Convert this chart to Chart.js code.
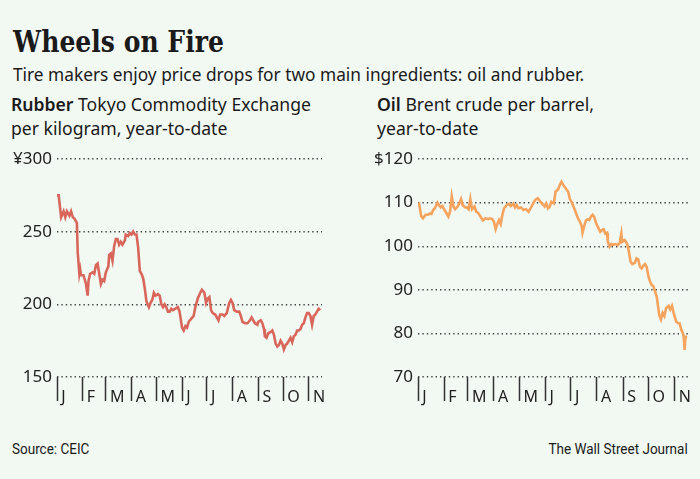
<!DOCTYPE html>
<html>
<head>
<meta charset="utf-8">
<script src="https://cdn.jsdelivr.net/npm/chart.js@4.4.1/dist/chart.umd.min.js"></script>
<style>
  html, body { margin: 0; padding: 0; }
  body { width: 700px; height: 479px; background: #f2f8f2; position: relative; overflow: hidden; color: #1a1a1a; }
  .t { position: absolute; white-space: nowrap; line-height: 1; }
  #title { left: 13px; top: 27px; font-family: "DejaVu Serif"; font-weight: bold; font-size: 29.5px; transform: scaleX(0.85); transform-origin: left top; }
  #sub { left: 13px; top: 66px; font-family: "Noto Sans"; font-size: 17.3px; }
  .hd { font-family: "Noto Sans"; font-size: 17.6px; line-height: 24px; }
  .hd b { font-weight: 600; }
  #hdL { left: 11px; top: 92px; }
  #hdR { left: 377px; top: 92px; }
  .ft { font-family: "Roboto"; font-size: 15px; top: 442px; transform: scaleX(0.9); }
  #src { left: 12px; transform-origin: left top; }
  #wsj { right: 12px; transform-origin: right top; }
  canvas { position: absolute; }
  #rubberChart { left: 0; top: 140px; }
  #oilChart { left: 355px; top: 140px; }
</style>
</head>
<body>
<div class="t" id="title">Wheels on Fire</div>
<div class="t" id="sub">Tire makers enjoy price drops for two main ingredients: oil and rubber.</div>
<div class="t hd" id="hdL"><b>Rubber</b> Tokyo Commodity Exchange<br>per kilogram, year-to-date</div>
<div class="t hd" id="hdR"><b>Oil</b> Brent crude per barrel,<br>year-to-date</div>
<canvas id="rubberChart" width="335" height="267"></canvas>
<canvas id="oilChart" width="345" height="267"></canvas>
<div class="t ft" id="src">Source: CEIC</div>
<div class="t ft" id="wsj">The Wall Street Journal</div>
<script>
// day of year (0 = Jan 1) for month ticks
const monthDays = [0, 31, 59, 90, 120, 151, 181, 212, 243, 273, 304];
const monthLetters = ['J', 'F', 'M', 'A', 'M', 'J', 'J', 'A', 'S', 'O', 'N'];

// Rubber, yen per kilogram
const rubberDays = [0, 2, 5, 8, 10, 12, 15, 17, 19, 21, 24, 25, 27, 28, 29, 32, 35, 37, 38, 40,
  43, 45, 47, 49, 51, 53, 55, 57, 59, 62, 63, 65, 67, 69, 71, 73, 75, 77, 79, 82,
  83, 86, 88, 90, 92, 94, 96, 98, 100, 102, 104, 106, 108, 111, 113, 115, 117, 119, 122, 124,
  126, 128, 130, 132, 134, 136, 138, 140, 143, 146, 148, 151, 153, 155, 157, 159, 162, 165, 167, 170,
  173, 175, 178, 180, 182, 184, 186, 188, 191, 193, 195, 197, 200, 202, 205, 208, 210, 212, 214, 217,
  220, 222, 224, 227, 230, 233, 235, 237, 239, 242, 243, 246, 248, 250, 251, 253, 255, 258, 260, 262,
  264, 266, 268, 270, 272, 274, 276, 278, 280, 282, 284, 286, 288, 290, 292, 294, 296, 298, 300, 302,
  304, 306, 308, 310, 312, 314, 316, 318];
const rubberPrice = [275, 275, 260, 264, 260, 264, 261, 264, 260, 259, 256, 236, 221, 224, 220, 220, 214, 206, 216, 221,
  222, 221, 227, 228, 221, 214, 217, 216, 222, 226, 234, 235, 230, 240, 245, 245, 241, 243, 241, 244,
  248, 247, 249, 248, 250, 248, 248, 239, 223, 221, 218, 211, 202, 198, 201, 203, 208, 206, 207, 206,
  200, 198, 200, 198, 195, 195, 197, 196, 197, 198, 195, 184, 182, 185, 184, 188, 190, 192, 198, 204,
  208, 210, 208, 201, 204, 205, 196, 194, 193, 191, 189, 193, 193, 192, 194, 201, 203, 201, 196, 195,
  195, 192, 188, 187, 187, 189, 191, 189, 187, 186, 188, 189, 187, 183, 178, 177, 180, 181, 182, 179,
  173, 171, 172, 175, 173, 169, 172, 173, 175, 177, 174, 178, 179, 182, 182, 183, 186, 187, 191, 194,
  194, 192, 186, 192, 193, 195, 197, 196];

// Brent crude, dollars per barrel
const oilDays = [1, 4, 6, 9, 12, 14, 16, 18, 20, 23, 25, 27, 29, 31, 34, 36, 38, 40, 42, 44,
  47, 49, 51, 53, 56, 58, 60, 62, 64, 67, 69, 71, 74, 77, 80, 83, 85, 88, 90, 92,
  94, 96, 98, 100, 102, 105, 108, 110, 113, 115, 117, 119, 122, 125, 128, 131, 134, 137, 139, 142,
  145, 147, 150, 152, 154, 156, 158, 161, 163, 166, 168, 170, 173, 176, 178, 180, 182, 184, 186, 188,
  190, 192, 194, 195, 197, 199, 201, 203, 205, 207, 209, 211, 213, 216, 218, 220, 222, 224, 225, 227,
  229, 231, 234, 237, 239, 241, 242, 245, 248, 250, 252, 254, 257, 259, 261, 263, 265, 267, 269, 271,
  273, 275, 277, 279, 281, 283, 284, 286, 288, 290, 292, 294, 297, 299, 301, 303, 306, 308, 310, 312,
  314, 315, 316, 317, 319];
const oilPrice = [110, 106.8, 106.4, 107.2, 107.2, 107.5, 107.4, 108.3, 108.7, 110, 109.4, 108.9, 109.2, 108.4, 107.5, 106.8, 107.9, 111.4, 109.1, 108.5,
  109.1, 109.8, 110.8, 109.4, 108.9, 108.9, 108.5, 110.8, 108.5, 109.1, 107.9, 107.7, 106.8, 105.9, 106.4, 106.2, 106.4, 106.2, 105.6, 103.9,
  105.1, 106, 105.1, 107.2, 108.7, 109.4, 109.7, 109.2, 109.8, 108.9, 109.4, 108.7, 108.9, 108.3, 108.5, 107.9, 108.9, 110, 110.6, 111,
  110.2, 109.8, 109.1, 109.8, 108.7, 109, 110.2, 109.8, 112.5, 113, 114, 114.8, 113.8, 113, 112.5, 110.8, 110.2, 109.2, 108.3, 107.2,
  106.2, 105.6, 104.6, 103.1, 104.6, 105.9, 106.2, 106, 106.8, 107.2, 106.7, 105.3, 104.5, 103.3, 103.7, 103.9, 102.9, 103.1, 101, 99.9,
  100.5, 100.3, 100.5, 100.3, 100.7, 102.9, 101, 101.4, 100.5, 98.7, 96.4, 95.9, 96.2, 97.2, 97, 95.3, 94.9, 95.5, 95.9, 95.3,
  93.2, 91.9, 91.1, 90.8, 89.6, 88.4, 86.9, 84.2, 83.2, 84.7, 84, 85.8, 86.3, 85.5, 86.3, 84.7, 82.7, 82.4, 82.3, 80.9,
  80, 79.2, 76.2, 79.2, 79.2];

const rubberTicks = [150, 200, 250, 300];
const oilTicks = [70, 80, 90, 100, 110, 120];

function toPoints(days, values) {
  return days.map((d, i) => ({ x: d, y: values[i] }));
}

function makeChart(canvasId, points, color, yTicks, prefix, axisWidth, padRight) {
  const ctx = document.getElementById(canvasId).getContext('2d');
  const yMin = yTicks[0];
  const yMax = yTicks[yTicks.length - 1];
  return new Chart(ctx, {
    type: 'line',
    data: {
      datasets: [{
        data: points,
        borderColor: color,
        borderWidth: 2.6,
        pointRadius: 0,
        tension: 0,
        fill: false
      }]
    },
    options: {
      responsive: false,
      animation: false,
      layout: { padding: { top: 19, right: padRight, left: 0, bottom: 0 } },
      plugins: { legend: { display: false }, tooltip: { enabled: false } },
      scales: {
        x: {
          type: 'linear',
          min: 0,
          max: 320,
          afterBuildTicks: (scale) => { scale.ticks = monthDays.map(v => ({ value: v })); },
          afterFit: (scale) => { scale.height = 30; },
          grid: {
            drawOnChartArea: false,
            drawTicks: true,
            tickLength: 24,
            tickColor: '#333',
            tickWidth: 1.5
          },
          border: { display: false },
          ticks: {
            autoSkip: false,
            maxRotation: 0,
            align: 'start',
            padding: -13,
            color: '#222',
            font: { family: 'Noto Sans', size: 16 },
            callback: (value, index) => ' ' + monthLetters[index]
          }
        },
        y: {
          min: yMin,
          max: yMax,
          afterBuildTicks: (scale) => { scale.ticks = yTicks.map(v => ({ value: v })); },
          afterFit: (scale) => { scale.width = axisWidth; },
          grid: {
            drawTicks: false,
            color: '#444',
            lineWidth: 1.4
          },
          border: { display: false, dash: [1.4, 3] },
          ticks: {
            padding: 5,
            color: '#222',
            font: { family: 'Noto Sans', size: 17 },
            callback: (value) => value === yMax ? prefix + value : String(value)
          }
        }
      }
    }
  });
}

makeChart('rubberChart', toPoints(rubberDays, rubberPrice), '#d8665b', rubberTicks, '\u00a5', 57, 13);
makeChart('oilChart', toPoints(oilDays, oilPrice), '#f6a35e', oilTicks, '$', 63, 12);
</script>
</body>
</html>
